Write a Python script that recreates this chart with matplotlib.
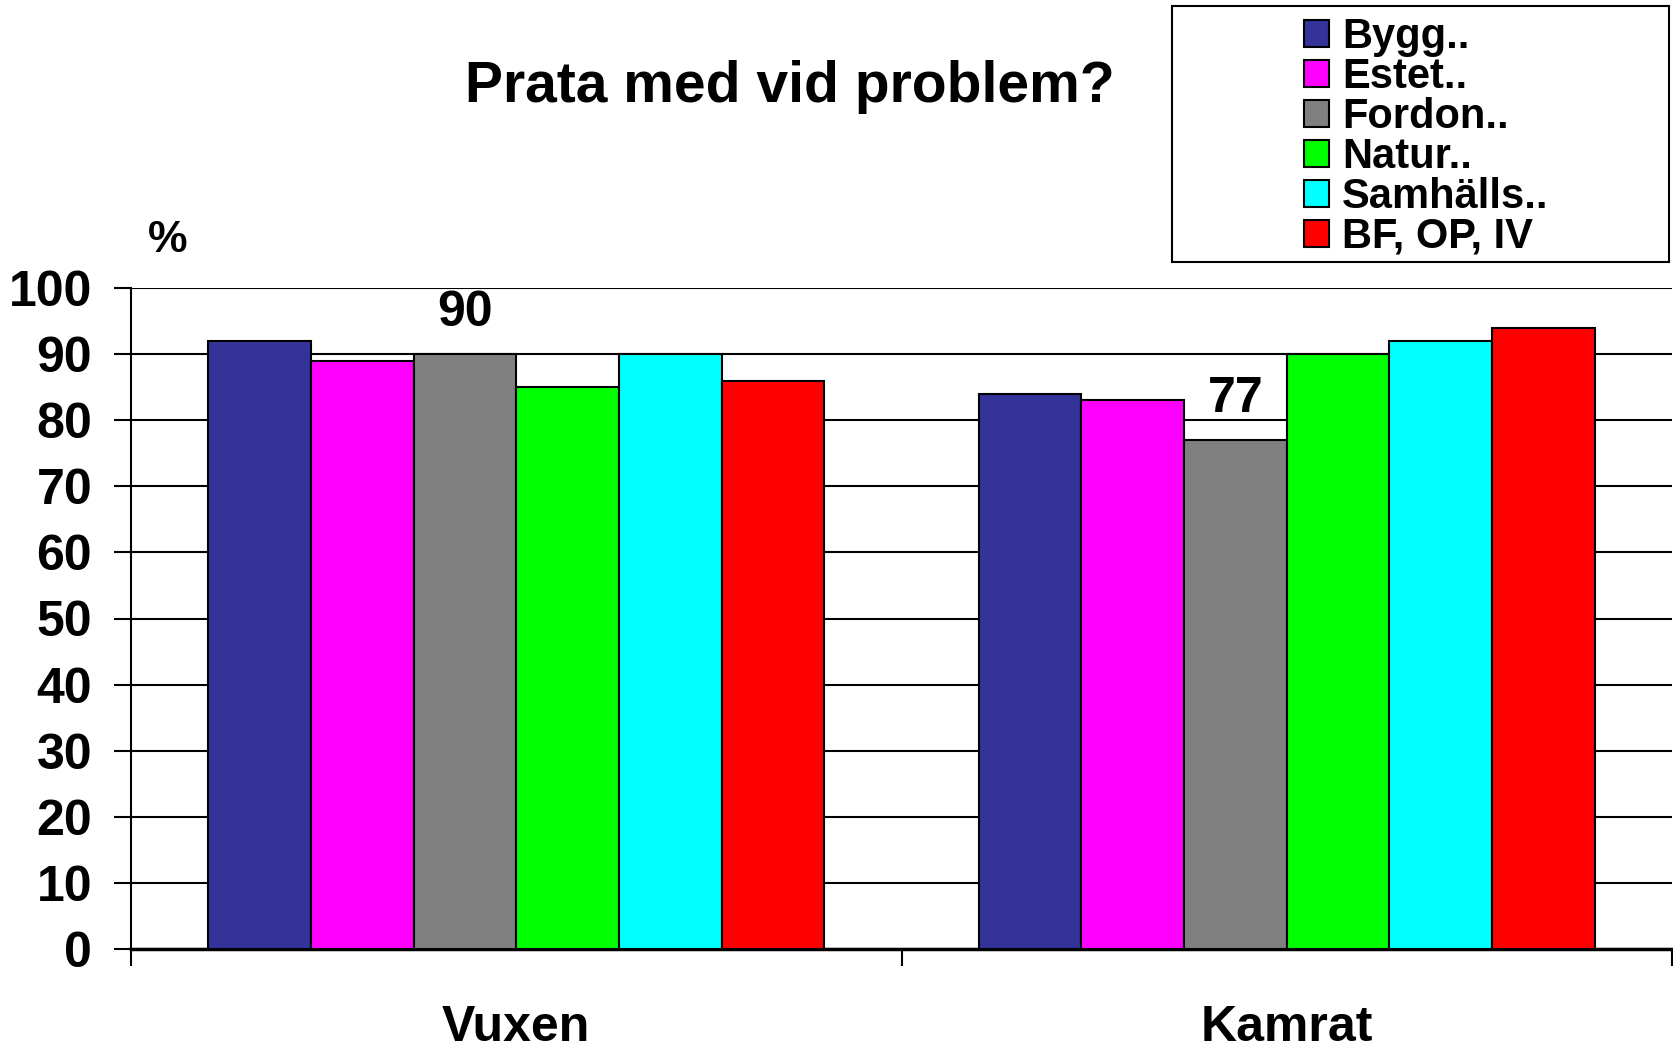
import matplotlib
matplotlib.use("Agg")
import matplotlib.pyplot as plt
from matplotlib.patches import Rectangle
import numpy as np

plt.rcParams['font.family'] = ['Liberation Sans', 'DejaVu Sans']
plt.rcParams['font.weight'] = 'bold'

categories = ["Vuxen", "Kamrat"]
series = ["Bygg..", "Estet..", "Fordon..", "Natur..", "Samhälls..", "BF, OP, IV"]
colors = ["#333399", "#FF00FF", "#808080", "#00FF00", "#00FFFF", "#FF0000"]
values = {
    "Bygg..": [92, 84],
    "Estet..": [89, 83],
    "Fordon..": [90, 77],
    "Natur..": [85, 90],
    "Samhälls..": [90, 92],
    "BF, OP, IV": [86, 94],
}
labeled_series = "Fordon.."
yticks = [0, 10, 20, 30, 40, 50, 60, 70, 80, 90, 100]

W, H = 1673, 1043
fig = plt.figure(figsize=(W / 100, H / 100), dpi=100)
ax = fig.add_axes([131 / W, 1 - 949 / H, (W - 131 - 1) / W, (949 - 288) / H])

x = np.arange(len(categories))
n = len(series)
bw = 0.8 / n
for i, s in enumerate(series):
    pos = x - 0.4 + bw * (i + 0.5)
    ax.bar(pos, values[s], width=bw, color=colors[i], edgecolor="black",
           linewidth=1.5, label=s, zorder=3)
    if s == labeled_series:
        for p, v in zip(pos, values[s]):
            ax.text(p, v + 4.2, str(v), ha="center", va="baseline",
                    fontsize=36, fontweight="bold")

ax.set_xlim(-0.5, len(categories) - 0.5)
ax.set_ylim(0, 100)
ax.set_yticks(yticks)
ax.set_yticklabels([str(t) for t in yticks])
ax.yaxis.grid(True, color="black", linewidth=1.5, zorder=0)
ax.set_axisbelow(True)
ax.tick_params(axis="y", length=12, width=1.5, labelsize=36, pad=16)
for lab in ax.get_yticklabels():
    lab.set_fontweight("bold")

ax.set_xticks(x)
ax.set_xticklabels(categories)
ax.set_xticks(np.arange(-0.5, len(categories)), minor=True)
ax.tick_params(axis="x", which="major", length=0, labelsize=36, pad=40)
ax.tick_params(axis="x", which="minor", length=12, width=1.5)
for lab in ax.get_xticklabels():
    lab.set_fontweight("bold")

for sp in ["top", "right"]:
    ax.spines[sp].set_visible(False)
ax.spines["left"].set_linewidth(1.5)
ax.spines["bottom"].set_linewidth(2.5)

fig.text(168 / W, 1 - 241 / H, "%", ha="center", va="center",
         fontsize=32, fontweight="bold")
fig.text(790 / W, 1 - 87 / H, "Prata med vid problem?", ha="center",
         va="center", fontsize=41, fontweight="bold")

# legend frame
fig.patches.append(Rectangle((1172 / W, 1 - 262 / H), (1669 - 1172) / W, (262 - 6) / H,
                             transform=fig.transFigure, fill=False,
                             edgecolor="black", linewidth=1.5))
leg = fig.legend(loc="upper left", bbox_to_anchor=(1304 / W, 1 - 17 / H),
                 frameon=False, fontsize=30, handlelength=0.61, handleheight=0.61,
                 handletextpad=0.31, labelspacing=0.0, borderpad=0,
                 borderaxespad=0)
for t in leg.get_texts():
    t.set_fontweight("bold")

fig.savefig("out.png", dpi=100)
